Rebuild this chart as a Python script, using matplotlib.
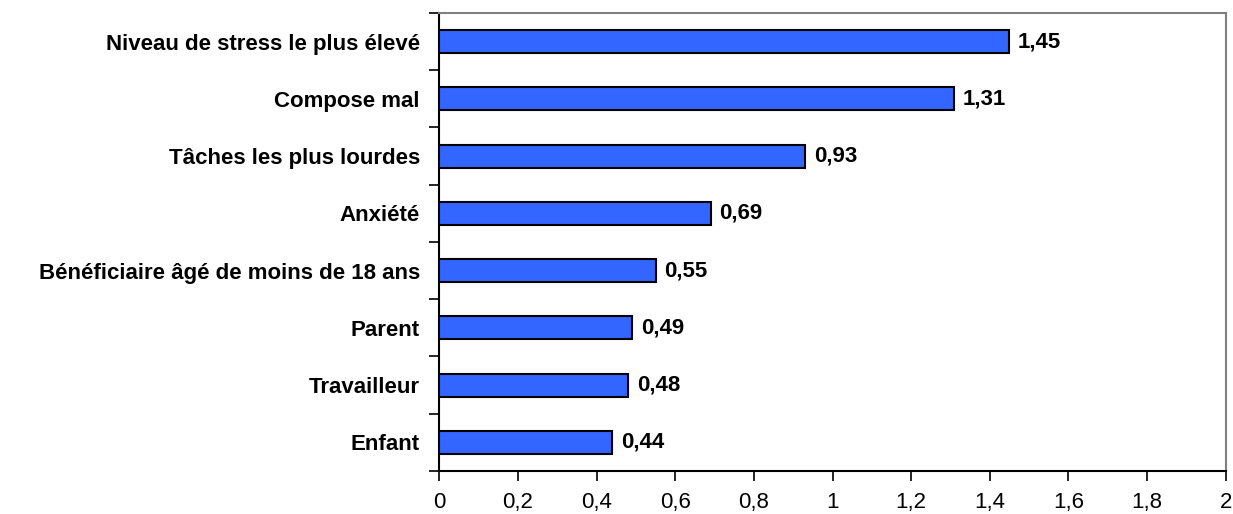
import matplotlib
matplotlib.use("Agg")
import matplotlib.pyplot as plt

categories = [
    "Niveau de stress le plus élevé",
    "Compose mal",
    "Tâches les plus lourdes",
    "Anxiété",
    "Bénéficiaire âgé de moins de 18 ans",
    "Parent",
    "Travailleur",
    "Enfant",
]
values = [1.45, 1.31, 0.93, 0.69, 0.55, 0.49, 0.48, 0.44]
x_ticks = [0, 0.2, 0.4, 0.6, 0.8, 1.0, 1.2, 1.4, 1.6, 1.8, 2.0]
x_tick_labels = ["0", "0,2", "0,4", "0,6", "0,8", "1", "1,2", "1,4", "1,6", "1,8", "2"]

plt.rcParams["font.family"] = ["Liberation Sans", "DejaVu Sans"]

fig = plt.figure(figsize=(12.33, 5.14), dpi=100)
ax = fig.add_axes([0.3563, 0.0837, 0.6378, 0.891])

n = len(categories)
pos = list(range(n - 1, -1, -1))
ax.barh(pos, values, height=0.4, color="#3366FF", edgecolor="black", linewidth=1.5, zorder=3)

for p, v in zip(pos, values):
    ax.text(v + 0.022, p, f"{v:.2f}".replace(".", ","), va="center", ha="left",
            fontsize=16, fontweight="bold", color="black")

ax.set_xlim(0, 2)
ax.set_ylim(-0.5, n - 0.5)
ax.set_xticks(x_ticks)
ax.set_xticklabels(x_tick_labels, fontsize=16)

ax.set_yticks(pos)
ax.set_yticklabels(categories, fontsize=16, fontweight="bold")
ax.tick_params(axis="y", which="major", length=0, pad=14)
ax.set_yticks([i - 0.5 for i in range(n + 1)], minor=True)
ax.tick_params(axis="y", which="minor", length=7, width=1.2, direction="out")
ax.tick_params(axis="x", length=7, width=1.2, direction="out", pad=8)

for side in ("left", "bottom"):
    ax.spines[side].set_color("black")
    ax.spines[side].set_linewidth(1.5)
for side in ("top", "right"):
    ax.spines[side].set_color("#808080")
    ax.spines[side].set_linewidth(1.5)

fig.savefig("out.png", dpi=100)
